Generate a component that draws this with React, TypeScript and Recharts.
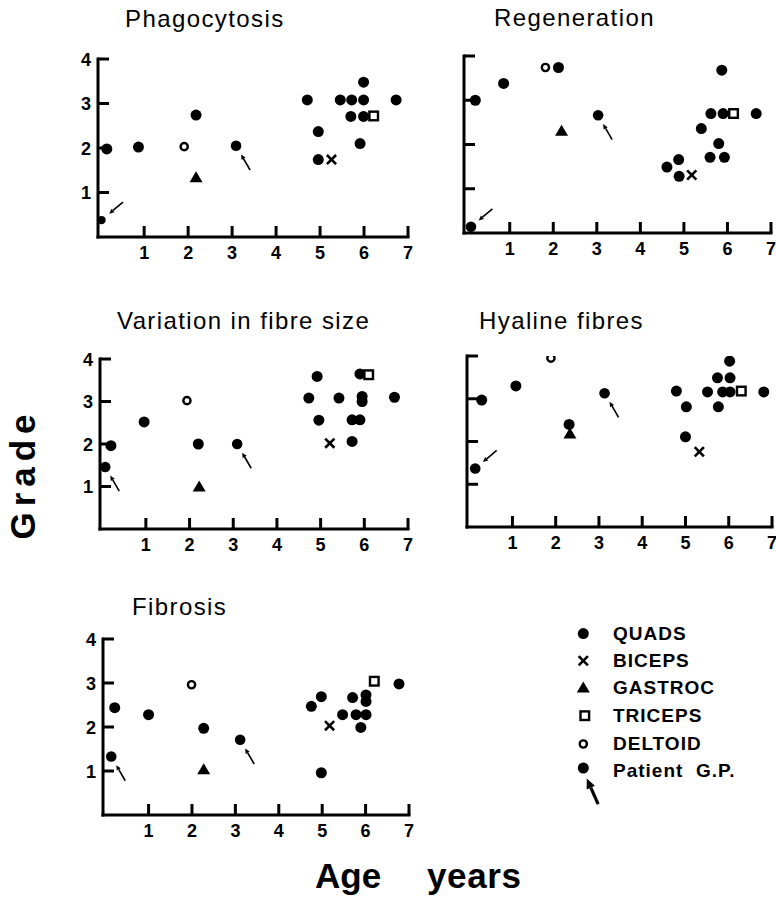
import React from 'react';
import { ScatterChart, Scatter, XAxis, YAxis } from 'recharts';

type Pt = { x: number; y: number; dir?: string; small?: boolean };

const FONT = '"Liberation Sans", Arial, Helvetica, sans-serif';
const XMIN = -0.05;
const xTicks = [1, 2, 3, 4, 5, 6, 7];
const yTicks = [1, 2, 3, 4];
const panelTitles = ['Phagocytosis', 'Regeneration', 'Variation in fibre size', 'Hyaline fibres', 'Fibrosis'];
const legendLabels = ['QUADS', 'BICEPS', 'GASTROC', 'TRICEPS', 'DELTOID', 'Patient  G.P.'];
const yAxisTitle = 'Grade';
const xAxisTitle = ['Age', 'years'];

// ---- Phagocytosis ----
const phagoQuads: Pt[] = [
  { x: 0.15, y: 1.98 }, { x: 0.87, y: 2.02 }, { x: 2.18, y: 2.74 }, { x: 4.71, y: 3.08 },
  { x: 4.96, y: 2.37 }, { x: 4.96, y: 1.74 }, { x: 5.46, y: 3.08 }, { x: 5.72, y: 3.08 },
  { x: 5.99, y: 3.08 }, { x: 5.99, y: 3.48 }, { x: 5.7, y: 2.71 }, { x: 5.99, y: 2.71 },
  { x: 5.91, y: 2.1 }, { x: 6.73, y: 3.08 },
];
const phagoBiceps: Pt[] = [{ x: 5.26, y: 1.74 }];
const phagoGastroc: Pt[] = [{ x: 2.18, y: 1.34 }];
const phagoTriceps: Pt[] = [{ x: 6.22, y: 2.72 }];
const phagoDeltoid: Pt[] = [{ x: 1.91, y: 2.03 }];
const phagoPatient: Pt[] = [{ x: 0.03, y: 0.38, dir: 'upper', small: true }, { x: 3.09, y: 2.05, dir: 'lower' }];

// ---- Regeneration ----
const regenQuads: Pt[] = [
  { x: 0.21, y: 3.0 }, { x: 0.86, y: 3.38 }, { x: 2.12, y: 3.74 }, { x: 4.61, y: 1.49 },
  { x: 4.88, y: 1.66 }, { x: 4.89, y: 1.28 }, { x: 5.4, y: 2.36 }, { x: 5.62, y: 2.7 },
  { x: 5.87, y: 3.68 }, { x: 5.9, y: 2.7 }, { x: 5.8, y: 2.02 }, { x: 5.6, y: 1.71 },
  { x: 5.93, y: 1.71 }, { x: 6.66, y: 2.7 },
];
const regenBiceps: Pt[] = [{ x: 5.18, y: 1.31 }];
const regenGastroc: Pt[] = [{ x: 2.19, y: 2.31 }];
const regenTriceps: Pt[] = [{ x: 6.14, y: 2.7 }];
const regenDeltoid: Pt[] = [{ x: 1.82, y: 3.74 }];
const regenPatient: Pt[] = [{ x: 0.11, y: 0.14, dir: 'upper' }, { x: 3.03, y: 2.66, dir: 'lower' }];

// ---- Variation in fibre size ----
const varQuads: Pt[] = [
  { x: 0.2, y: 1.96 }, { x: 0.96, y: 2.52 }, { x: 2.2, y: 2.0 }, { x: 4.73, y: 3.08 },
  { x: 4.92, y: 3.59 }, { x: 4.96, y: 2.56 }, { x: 5.42, y: 3.08 }, { x: 5.72, y: 2.57 },
  { x: 5.9, y: 2.57 }, { x: 5.72, y: 2.06 }, { x: 5.9, y: 3.65 }, { x: 5.95, y: 3.12 },
  { x: 5.95, y: 3.0 }, { x: 6.69, y: 3.1 },
];
const varBiceps: Pt[] = [{ x: 5.21, y: 2.02 }];
const varGastroc: Pt[] = [{ x: 2.22, y: 1.0 }];
const varTriceps: Pt[] = [{ x: 6.1, y: 3.63 }];
const varDeltoid: Pt[] = [{ x: 1.94, y: 3.02 }];
const varPatient: Pt[] = [{ x: 0.07, y: 1.46, dir: 'lower' }, { x: 3.09, y: 2.0, dir: 'lower' }];

// ---- Hyaline fibres ----
const hyaQuads: Pt[] = [
  { x: 0.29, y: 2.97 }, { x: 1.08, y: 3.3 }, { x: 2.31, y: 2.4 }, { x: 4.79, y: 3.18 },
  { x: 5.02, y: 2.81 }, { x: 5.0, y: 2.11 }, { x: 5.51, y: 3.16 }, { x: 5.74, y: 3.49 },
  { x: 5.86, y: 3.16 }, { x: 6.03, y: 3.16 }, { x: 6.03, y: 3.49 }, { x: 6.02, y: 3.88 },
  { x: 5.76, y: 2.81 }, { x: 6.81, y: 3.16 },
];
const hyaBiceps: Pt[] = [{ x: 5.32, y: 1.76 }];
const hyaGastroc: Pt[] = [{ x: 2.33, y: 2.19 }];
const hyaTriceps: Pt[] = [{ x: 6.29, y: 3.18 }];
const hyaDeltoid: Pt[] = [{ x: 1.89, y: 3.95 }];
const hyaPatient: Pt[] = [{ x: 0.14, y: 1.37, dir: 'upper' }, { x: 3.13, y: 3.13, dir: 'lower' }];

// ---- Fibrosis ----
const fibQuads: Pt[] = [
  { x: 0.22, y: 2.44 }, { x: 1.0, y: 2.28 }, { x: 2.27, y: 1.97 }, { x: 4.75, y: 2.47 },
  { x: 4.98, y: 2.69 }, { x: 4.98, y: 0.96 }, { x: 5.47, y: 2.28 }, { x: 5.7, y: 2.67 },
  { x: 5.78, y: 2.28 }, { x: 6.01, y: 2.28 }, { x: 5.89, y: 1.99 }, { x: 6.01, y: 2.73 },
  { x: 6.01, y: 2.58 }, { x: 6.77, y: 2.98 },
];
const fibBiceps: Pt[] = [{ x: 5.17, y: 2.03 }];
const fibGastroc: Pt[] = [{ x: 2.27, y: 1.04 }];
const fibTriceps: Pt[] = [{ x: 6.2, y: 3.04 }];
const fibDeltoid: Pt[] = [{ x: 1.99, y: 2.96 }];
const fibPatient: Pt[] = [{ x: 0.14, y: 1.33, dir: 'lower' }, { x: 3.11, y: 1.71, dir: 'lower' }];

// ---- marker shapes ----
const Dot = (p: any) => <circle cx={p.cx} cy={p.cy} r={5.5} fill="#000" />;
const Cross = (p: any) => {
  const s = 4.6;
  return (
    <g stroke="#000" strokeWidth={2.6}>
      <line x1={p.cx - s} y1={p.cy - s} x2={p.cx + s} y2={p.cy + s} />
      <line x1={p.cx - s} y1={p.cy + s} x2={p.cx + s} y2={p.cy - s} />
    </g>
  );
};
const Tri = (p: any) => (
  <polygon points={`${p.cx},${p.cy - 6} ${p.cx + 6.5},${p.cy + 5} ${p.cx - 6.5},${p.cy + 5}`} fill="#000" />
);
const Sq = (p: any) => (
  <rect x={p.cx - 4.3} y={p.cy - 4.3} width={8.6} height={8.6} fill="#fff" stroke="#000" strokeWidth={2.4} />
);
const Ring = (p: any) => <circle cx={p.cx} cy={p.cy} r={3.6} fill="#fff" stroke="#000" strokeWidth={2.4} />;

const arrowPath = (cx: number, cy: number, ang: number, d0: number, d1: number, head: number, hw: number) => {
  const rad = (ang * Math.PI) / 180;
  const c = Math.cos(rad);
  const s = Math.sin(rad);
  const hx = cx + c * d0;
  const hy = cy + s * d0;
  const bx = cx + c * (d0 + head);
  const by = cy + s * (d0 + head);
  const tx = cx + c * d1;
  const ty = cy + s * d1;
  return { hx, hy, bx, by, tx, ty, px: -s * hw, py: c * hw };
};

const Patient = (p: any) => {
  const dir = p.payload?.dir;
  const small = p.payload?.small;
  const a = arrowPath(p.cx, p.cy, dir === 'upper' ? -40 : 60, 10, 28, 5, 2.3);
  return (
    <g>
      <circle cx={p.cx} cy={p.cy} r={small ? 4.2 : 5.3} fill="#000" />
      <line x1={a.bx} y1={a.by} x2={a.tx} y2={a.ty} stroke="#000" strokeWidth={1.6} />
      <polygon points={`${a.hx},${a.hy} ${a.bx + a.px},${a.by + a.py} ${a.bx - a.px},${a.by - a.py}`} fill="#000" />
    </g>
  );
};

const XTick = (p: any) => (
  <g>
    <line x1={p.x} y1={p.y} x2={p.x} y2={p.y - 11} stroke="#000" strokeWidth={3} />
    <text x={p.x} y={p.y + 21.5} textAnchor="middle" fontFamily={FONT} fontWeight="bold" fontSize={18} fill="#000">
      {p.payload.value}
    </text>
  </g>
);

const makeYTick = (show: boolean) => (p: any) => (
  <g>
    <line x1={p.x} y1={p.y} x2={p.x + 11} y2={p.y} stroke="#000" strokeWidth={3} />
    {show && (
      <text x={p.x - 7} y={p.y + 6.5} textAnchor="end" fontFamily={FONT} fontWeight="bold" fontSize={18} fill="#000">
        {p.payload.value}
      </text>
    )}
  </g>
);

type PanelDef = {
  box: [number, number, number, number];
  showY: boolean;
  sets: Pt[][];
};

const panels: PanelDef[] = [
  { box: [98, 59, 310, 178], showY: true, sets: [phagoQuads, phagoBiceps, phagoGastroc, phagoTriceps, phagoDeltoid, phagoPatient] },
  { box: [464, 56, 307, 177], showY: false, sets: [regenQuads, regenBiceps, regenGastroc, regenTriceps, regenDeltoid, regenPatient] },
  { box: [100, 359, 308, 170], showY: true, sets: [varQuads, varBiceps, varGastroc, varTriceps, varDeltoid, varPatient] },
  { box: [467, 356, 305, 171], showY: false, sets: [hyaQuads, hyaBiceps, hyaGastroc, hyaTriceps, hyaDeltoid, hyaPatient] },
  { box: [103, 639, 306, 176], showY: true, sets: [fibQuads, fibBiceps, fibGastroc, fibTriceps, fibDeltoid, fibPatient] },
];

const shapes = [Dot, Cross, Tri, Sq, Ring, Patient];

const titlePos: [number, number][] = [
  [125, 26.7],
  [494, 26],
  [117, 329.3],
  [479, 329],
  [132, 615],
];

const ML = 50;
const MT = 15;
const MR = 15;
const MB = 35;

function Panel({ def }: { def: PanelDef }) {
  const [L, T, W, H] = def.box;
  return (
    <div style={{ position: 'absolute', left: L - ML, top: T - MT }}>
      <ScatterChart width={W + ML + MR} height={H + MT + MB} margin={{ top: MT, right: MR, bottom: 0, left: 0 }}>
        <XAxis
          type="number"
          dataKey="x"
          domain={[XMIN, 7]}
          ticks={xTicks}
          interval={0}
          height={MB}
          tickSize={0}
          tickMargin={0}
          tickLine={false}
          allowDataOverflow
          axisLine={{ stroke: '#000', strokeWidth: 3, strokeLinecap: 'square' }}
          tick={(p: any) => <XTick {...p} />}
        />
        <YAxis
          type="number"
          dataKey="y"
          domain={[0, 4]}
          ticks={yTicks}
          interval={0}
          width={ML}
          tickSize={0}
          tickMargin={0}
          tickLine={false}
          allowDataOverflow
          axisLine={{ stroke: '#000', strokeWidth: 3, strokeLinecap: 'square' }}
          tick={makeYTick(def.showY)}
        />
        {def.sets.map((d, i) => (
          <Scatter key={i} name={legendLabels[i]} data={d} isAnimationActive={false} shape={shapes[i]} />
        ))}
      </ScatterChart>
    </div>
  );
}

const legendRows = [639.6, 666.7, 693.5, 721.7, 750, 777];

function LegendMarker({ i, cx, cy }: { i: number; cx: number; cy: number }) {
  if (i === 0) return <circle cx={cx} cy={cy} r={5.5} fill="#000" />;
  if (i === 1) return <Cross cx={cx} cy={cy} />;
  if (i === 2) return <Tri cx={cx} cy={cy} />;
  if (i === 3) return <Sq cx={cx + 1.5} cy={cy} />;
  if (i === 4) return <Ring cx={cx} cy={cy} />;
  const a = arrowPath(cx + 1, cy + 2, 66, 6, 34, 10, 4.5);
  return (
    <g>
      <circle cx={cx} cy={cy - 3} r={5.5} fill="#000" />
      <line x1={a.bx} y1={a.by} x2={a.tx} y2={a.ty} stroke="#000" strokeWidth={3.2} />
      <polygon points={`${a.hx},${a.hy} ${a.bx + a.px},${a.by + a.py} ${a.bx - a.px},${a.by - a.py}`} fill="#000" />
    </g>
  );
}

export default function App() {
  return (
    <div style={{ position: 'absolute', left: 0, top: 0, width: 776, height: 899, background: '#fff' }}>
      {panels.map((p, i) => (
        <Panel key={i} def={p} />
      ))}
      <svg width={776} height={899} style={{ position: 'absolute', left: 0, top: 0, pointerEvents: 'none' }}>
        {panelTitles.map((t, i) => (
          <text key={t} x={titlePos[i][0]} y={titlePos[i][1]} fontFamily={FONT} fontSize={24} letterSpacing={1.4} fill="#000">
            {t}
          </text>
        ))}
        <text
          x={35}
          y={474}
          transform="rotate(-90 35 474)"
          textAnchor="middle"
          fontFamily={FONT}
          fontWeight="bold"
          fontSize={35}
          letterSpacing={6}
          fill="#000"
        >
          {yAxisTitle}
        </text>
        <text x={315} y={888} fontFamily={FONT} fontWeight="bold" fontSize={35} fill="#000">
          {xAxisTitle[0]}
        </text>
        <text x={427} y={888} fontFamily={FONT} fontWeight="bold" fontSize={35} letterSpacing={0.6} fill="#000">
          {xAxisTitle[1]}
        </text>
        {legendLabels.map((l, i) => (
          <g key={l}>
            <LegendMarker i={i} cx={583.3} cy={legendRows[i] - 6} />
            <text x={613} y={legendRows[i]} fontFamily={FONT} fontWeight="bold" fontSize={19} letterSpacing={1} fill="#000" style={{ whiteSpace: 'pre' }}>
              {l}
            </text>
          </g>
        ))}
      </svg>
    </div>
  );
}
